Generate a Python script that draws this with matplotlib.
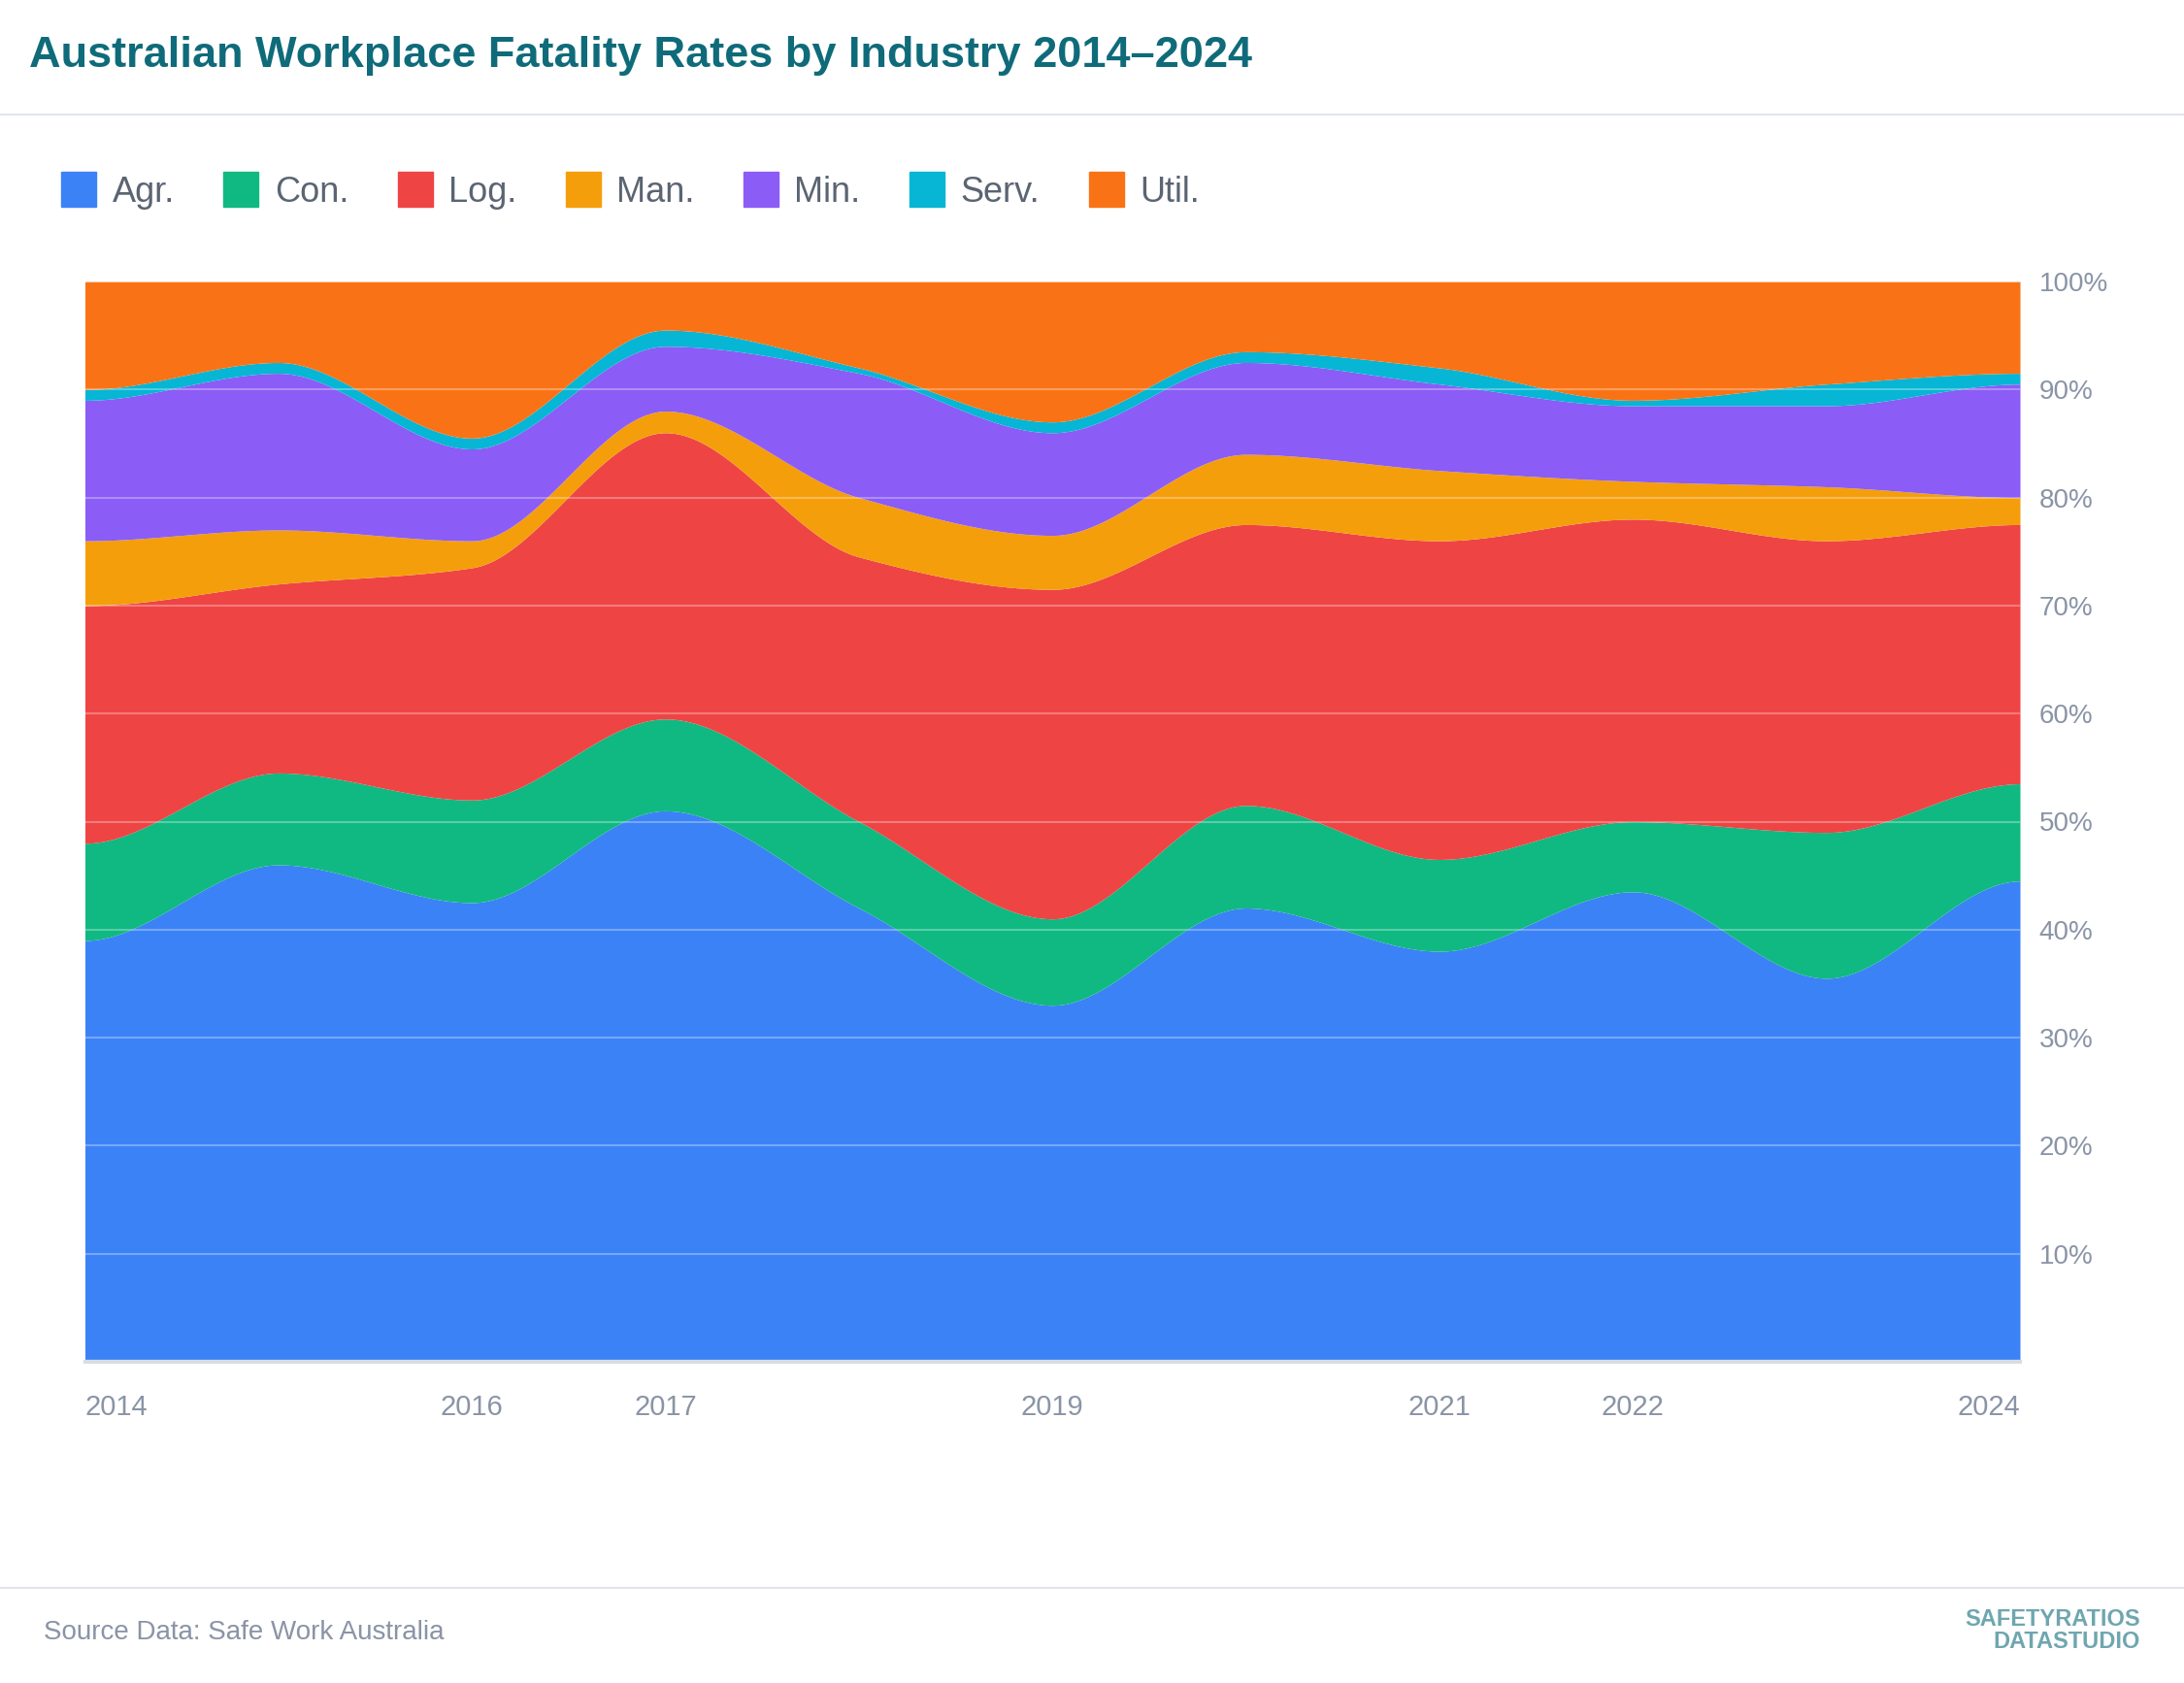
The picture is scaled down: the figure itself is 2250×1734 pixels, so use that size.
import numpy as np
import matplotlib
matplotlib.use("Agg")
import matplotlib.pyplot as plt
from matplotlib.lines import Line2D
plt.rcParams['font.family'] = ['Liberation Sans', 'DejaVu Sans']

years = [2014, 2015, 2016, 2017, 2018, 2019, 2020, 2021, 2022, 2023, 2024]
tick_years = [2014, 2016, 2017, 2019, 2021, 2022, 2024]
names = ["Agr.", "Con.", "Log.", "Man.", "Min.", "Serv.", "Util."]
colors = ["#3b82f6", "#10b981", "#ef4444", "#f59e0b", "#8b5cf6", "#06b6d4", "#f97316"]
# shares (%) per industry
agr  = [39.0, 46.0, 42.5, 51.0, 42.0, 33.0, 42.0, 38.0, 43.5, 35.5, 44.5]
con  = [9.0, 8.5, 9.5, 8.5, 8.0, 8.0, 9.5, 8.5, 6.5, 13.5, 9.0]
log_ = [22.0, 17.5, 21.5, 26.5, 24.5, 30.5, 26.0, 29.5, 28.0, 27.0, 24.0]
man  = [6.0, 5.0, 2.5, 2.0, 5.5, 5.0, 6.5, 6.5, 3.5, 5.0, 2.5]
mine = [13.0, 14.5, 8.5, 6.0, 11.5, 9.5, 8.5, 8.0, 7.0, 7.5, 10.5]
serv = [1.0, 1.0, 1.0, 1.5, 0.5, 1.0, 1.0, 1.5, 0.5, 2.0, 1.0]
util = [10.0, 7.5, 14.5, 4.5, 8.0, 13.0, 6.5, 8.0, 11.0, 9.5, 8.5]
series = [agr, con, log_, man, mine, serv, util]

def smooth(x, y, xs):
    x = np.asarray(x, float); y = np.asarray(y, float)
    h = np.diff(x); d = np.diff(y) / h
    m = np.zeros_like(y)
    for i in range(1, len(y) - 1):
        if d[i-1] * d[i] > 0:
            w1 = 2*h[i] + h[i-1]; w2 = h[i] + 2*h[i-1]
            m[i] = (w1 + w2) / (w1/d[i-1] + w2/d[i])
    idx = np.clip(np.searchsorted(x, xs) - 1, 0, len(x) - 2)
    t = (xs - x[idx]) / h[idx]
    h00 = 2*t**3 - 3*t**2 + 1; h10 = t**3 - 2*t**2 + t
    h01 = -2*t**3 + 3*t**2; h11 = t**3 - t**2
    return h00*y[idx] + h10*h[idx]*m[idx] + h01*y[idx+1] + h11*h[idx]*m[idx+1]

fig = plt.figure(figsize=(22.5, 17.34), dpi=100)
ax = fig.add_axes([87.5/2250, 1-1403/1734, (2081-87.5)/2250, (1403-290)/1734])
xs = np.linspace(years[0], years[-1], 1000)
cum = np.cumsum(np.array(series), axis=0)
cum = cum / cum[-1] * 100
prev = np.zeros_like(xs)
for i, c in enumerate(colors):
    top = smooth(years, cum[i], xs) if i < len(colors) - 1 else np.full_like(xs, 100.0)
    ax.fill_between(xs, prev, top, color=c, lw=0)
    prev = top
ax.set_xlim(years[0], years[-1]); ax.set_ylim(0, 100)
for v in range(10, 101, 10):
    ax.axhline(v, color="white", alpha=0.3, lw=1.5)
ax.yaxis.tick_right()
ax.set_yticks(range(10, 101, 10))
ax.set_yticklabels([f"{v}%" for v in range(10, 101, 10)], fontsize=20, color="#8a94a6")
ax.set_xticks(tick_years)
labs = ax.set_xticklabels([str(y) for y in tick_years], fontsize=21, color="#8a94a6")
labs[0].set_ha("left"); labs[-1].set_ha("right")
ax.tick_params(axis="x", length=0, pad=24)
ax.tick_params(axis="y", length=0, pad=14)
for s in ["top", "right", "left"]:
    ax.spines[s].set_visible(False)
ax.spines["bottom"].set_color("#d8dce3"); ax.spines["bottom"].set_linewidth(3)

fig.text(30/2250, 1-57/1734, "Australian Workplace Fatality Rates by Industry 2014–2024",
         fontsize=32.5, fontweight="bold", color="#0f6b7a", va="center")
handles = [Line2D([], [], marker="s", ls="", ms=26, color=c) for c in colors]
fig.legend(handles, names, loc="center left", bbox_to_anchor=(0.012, 1-198/1734), ncol=7,
           frameon=False, fontsize=26, labelcolor="#5b6472", handletextpad=0.35, columnspacing=1.3,
           handlelength=1.2)
for yy in [118, 1636]:
    fig.add_artist(Line2D([0, 1], [1-yy/1734]*2, color="#e2e6ea", lw=1.5))
fig.text(45/2250, 1-1682/1734, "Source Data: Safe Work Australia", fontsize=20, color="#8a94a6", va="center")
fig.text(2205/2250, 1-1680/1734, "SAFETYRATIOS\nDATASTUDIO", fontsize=17, fontweight="bold",
         color="#6fa6b0", ha="right", va="center", linespacing=1.0)
fig.savefig("out.png", dpi=100, facecolor="white")
